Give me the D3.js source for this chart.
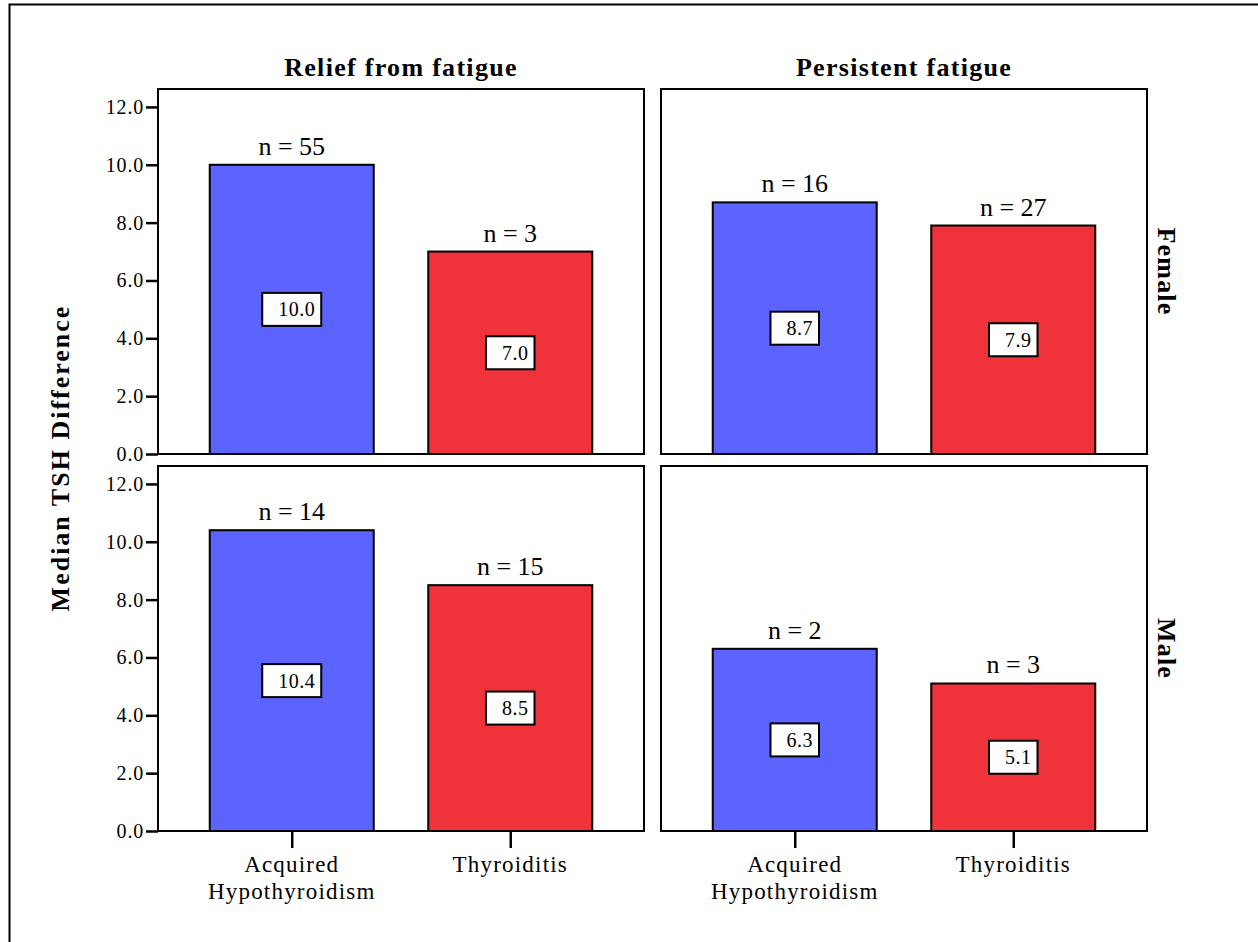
<!DOCTYPE html>
<html lang="en">
  <head>
    <meta charset="UTF-8" />
    <title>Median TSH Difference</title>
    <script src="https://d3js.org/d3.v7.min.js"></script>
    <style>
      body { margin: 0; background: #fff; }
      svg { font-family: "Liberation Serif", "Times New Roman", serif; }
    </style>
  </head>
  <body>
    <div id="chart-container"></div>

    <script>
      // Data
      const columns = ["Relief from fatigue", "Persistent fatigue"];
      const rows = ["Female", "Male"];
      const categories = ["Acquired Hypothyroidism", "Thyroiditis"];
      const categoryLines = [["Acquired", "Hypothyroidism"], ["Thyroiditis"]];
      const yTicks = [0, 2, 4, 6, 8, 10, 12];

      const femaleReliefMedian = [10.0, 7.0];
      const femaleReliefN = [55, 3];
      const femalePersistentMedian = [8.7, 7.9];
      const femalePersistentN = [16, 27];
      const maleReliefMedian = [10.4, 8.5];
      const maleReliefN = [14, 15];
      const malePersistentMedian = [6.3, 5.1];
      const malePersistentN = [2, 3];

      const colors = ["#5c63ff", "#f0333a"];

      // Cells of the panel grid
      const cells = [
        { row: 0, col: 0, medians: femaleReliefMedian, ns: femaleReliefN },
        { row: 0, col: 1, medians: femalePersistentMedian, ns: femalePersistentN },
        { row: 1, col: 0, medians: maleReliefMedian, ns: maleReliefN },
        { row: 1, col: 1, medians: malePersistentMedian, ns: malePersistentN }
      ];

      const width = 1258;
      const height = 942;
      const panelLeft = [158, 661];
      const panelTop = [89, 466];
      const panelW = 486;
      const panelH = 365;
      const barWidth = 164;

      const svg = d3
        .select("#chart-container")
        .append("svg")
        .attr("width", width)
        .attr("height", height);

      // outer frame
      svg
        .append("rect")
        .attr("x", 9.5)
        .attr("y", 4.5)
        .attr("width", width + 20)
        .attr("height", height + 20)
        .attr("fill", "none")
        .attr("stroke", "#000")
        .attr("stroke-width", 2);

      const xScale = d3
        .scalePoint()
        .domain(categories)
        .range([0, panelW])
        .padding(0.612);

      const yScale = d3.scaleLinear().domain([0, 12.62]).range([panelH, 0]);

      cells.forEach((cell) => {
        const g = svg
          .append("g")
          .attr(
            "transform",
            "translate(" + panelLeft[cell.col] + "," + panelTop[cell.row] + ")"
          );

        // bars
        g.selectAll("rect.bar")
          .data(cell.medians)
          .enter()
          .append("rect")
          .attr("class", "bar")
          .attr("x", (d, i) => xScale(categories[i]) - barWidth / 2)
          .attr("y", (d) => yScale(d))
          .attr("width", barWidth)
          .attr("height", (d) => panelH - yScale(d))
          .attr("fill", (d, i) => colors[i])
          .attr("stroke", "#000")
          .attr("stroke-width", 2);

        // n labels above bars
        g.selectAll("text.n")
          .data(cell.ns)
          .enter()
          .append("text")
          .attr("class", "n")
          .attr("x", (d, i) => xScale(categories[i]))
          .attr("y", (d, i) => yScale(cell.medians[i]) - 10)
          .attr("text-anchor", "middle")
          .style("font-size", "26px")
          .text((d) => "n = " + d);

        // value boxes in the middle of bars
        cell.medians.forEach((v, i) => {
          const cx = xScale(categories[i]);
          const cy = yScale(v / 2);
          const t = g
            .append("text")
            .attr("y", cy + 7)
            .attr("text-anchor", "end")
            .style("font-size", "20px")
            .style("letter-spacing", "0.5px")
            .text(v.toFixed(1));
          const tw = t.node().getComputedTextLength();
          const bw = tw + 22;
          g.insert("rect", "text:last-child")
            .attr("x", cx - bw / 2)
            .attr("y", cy - 16.5)
            .attr("width", bw)
            .attr("height", 33)
            .attr("fill", "#fff")
            .attr("stroke", "#000")
            .attr("stroke-width", 2);
          t.attr("x", cx + bw / 2 - 6).raise();
        });

        // panel frame
        g.append("rect")
          .attr("width", panelW)
          .attr("height", panelH)
          .attr("fill", "none")
          .attr("stroke", "#000")
          .attr("stroke-width", 2);

        // y axis on left column
        if (cell.col === 0) {
          const yAxis = d3
            .axisLeft(yScale)
            .tickValues(yTicks)
            .tickFormat(d3.format(".1f"))
            .tickSize(12)
            .tickPadding(2);
          const ya = g.append("g").call(yAxis);
          ya.select(".domain").remove();
          ya.selectAll(".tick line").attr("stroke-width", 2.5);
          ya.selectAll(".tick text")
            .style("font-family", "Liberation Serif, serif")
            .style("font-size", "20px")
            .style("letter-spacing", "0.8px")
            .attr("fill", "#000");
        }

        // x axis on bottom row
        if (cell.row === 1) {
          const xAxis = d3.axisBottom(xScale).tickSize(17).tickFormat("");
          const xa = g
            .append("g")
            .attr("transform", "translate(0," + panelH + ")")
            .call(xAxis);
          xa.select(".domain").remove();
          xa.selectAll(".tick line").attr("stroke-width", 2.5);
          categories.forEach((c, i) => {
            const lbl = g
              .append("text")
              .attr("x", xScale(c))
              .attr("y", panelH + 41)
              .attr("text-anchor", "middle")
              .style("font-size", "23px")
              .style("letter-spacing", "1.2px");
            categoryLines[i].forEach((line, j) => {
              lbl
                .append("tspan")
                .attr("x", xScale(c))
                .attr("dy", j === 0 ? 0 : 27)
                .text(line);
            });
          });
        }
      });

      // column titles
      columns.forEach((c, i) => {
        svg
          .append("text")
          .attr("x", panelLeft[i] + panelW / 2)
          .attr("y", 76)
          .attr("text-anchor", "middle")
          .style("font-size", "26px")
          .style("font-weight", "bold")
          .style("letter-spacing", "1.3px")
          .text(c);
      });

      // row titles
      rows.forEach((r, i) => {
        const x = 1158;
        const y = panelTop[i] + panelH / 2;
        svg
          .append("text")
          .attr("transform", "translate(" + x + "," + y + ") rotate(90)")
          .attr("text-anchor", "middle")
          .style("font-size", "26px")
          .style("font-weight", "bold")
          .style("letter-spacing", "1.2px")
          .text(r);
      });

      // y axis title
      svg
        .append("text")
        .attr("transform", "translate(69,458) rotate(-90)")
        .attr("text-anchor", "middle")
        .style("font-size", "26px")
        .style("font-weight", "bold")
        .style("letter-spacing", "2px")
        .text("Median TSH Difference");
    </script>
  </body>
</html>
